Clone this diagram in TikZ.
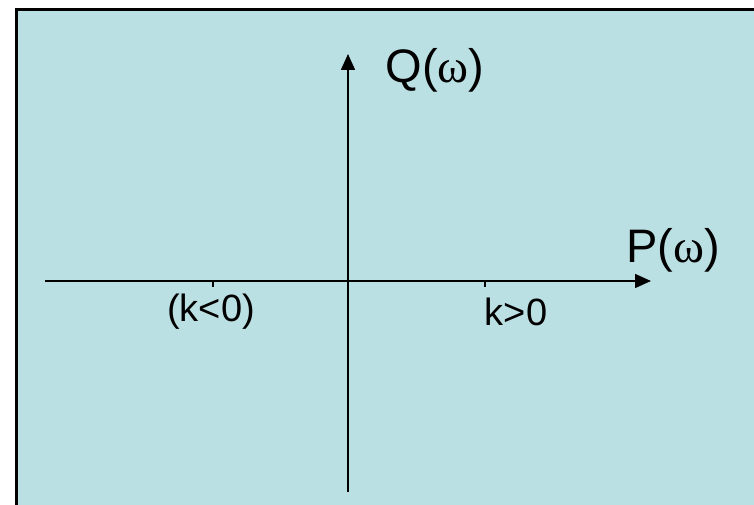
\documentclass[tikz,border=0pt]{standalone}
\usepackage{fontspec}
\setmainfont{Liberation Sans}
\newfontfamily\greekfont{Liberation Serif}
\usetikzlibrary{arrows.meta}
\definecolor{panel}{RGB}{187,224,227}
\tikzset{
  axis/.style={line width=1.6pt, -{Triangle[width=14pt,length=16pt]}},
  tickmark/.style={line width=1.4pt},
  biglabel/.style={anchor=base, inner sep=0pt, font=\fontsize{47}{56}\selectfont},
  smalllabel/.style={anchor=base, inner sep=0pt, font=\fontsize{38}{45}\selectfont}
}
\begin{document}
\begin{tikzpicture}[x=1pt,y=-1pt]
\useasboundingbox (0,0) rectangle (754,505);
\fill[white] (0,0) rectangle (754,505);
\draw[line width=2.6pt, fill=panel] (16.3,9.3) rectangle (780,530);
\coordinate (xl) at (45,281);
\coordinate (xr) at (651,281);
\coordinate (yb) at (348,492);
\coordinate (yt) at (348,54);
\draw[axis] (xl) -- (xr);
\draw[axis] (yb) -- (yt);
\coordinate (t1) at (213,281);
\coordinate (t2) at (485,281);
\draw[tickmark] (t1) -- ++(0,5.5);
\draw[tickmark] (t2) -- ++(0,5.5);
\node[biglabel] (q) at (435,83) {Q({\greekfont ω})};
\node[biglabel] (p) at (673,262) {P({\greekfont ω})};
\node[smalllabel] (kn) at (211,321) {(k<0)};
\node[smalllabel] (kp) at (516,325) {k>0};
\end{tikzpicture}
\end{document}
